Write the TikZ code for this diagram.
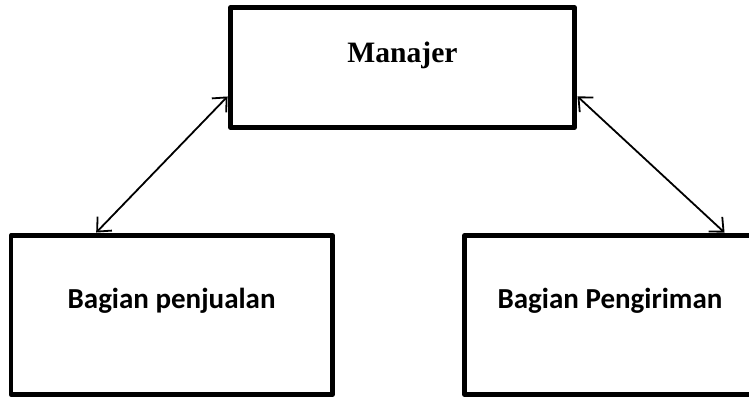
\documentclass[tikz,border=0pt]{standalone}
\usepackage{fontspec}
\setmainfont{Liberation Serif}
\newfontfamily\calib{Carlito}
\usetikzlibrary{arrows.meta}
\tikzset{
  boxnode/.style={draw=black, line width=4.5pt, line join=round, fill=white, inner sep=0pt},
  conn/.style={line width=1.8pt, {Straight Barb[length=11pt,width=20pt,line width=1.8pt]}-{Straight Barb[length=11pt,width=20pt,line width=1.8pt]}, shorten <=1pt, shorten >=1pt}
}
\begin{document}
\begin{tikzpicture}[x=1pt,y=-1pt]
\clip (0,0) rectangle (749,398);
\fill[white] (0,0) rectangle (749,398);
\node[boxnode, minimum width=344pt, minimum height=120pt, text height=20pt, text depth=29pt,
  font=\fontsize{29.6pt}{32pt}\selectfont\bfseries] (m) at (402.5,67.5) {Manajer};
\node[boxnode, minimum width=321.7pt, minimum height=159pt, text height=20pt, text depth=33pt,
  font=\calib\fontsize{29pt}{32pt}\selectfont\bfseries] (l) at (171.6,315) {Bagian penjualan};
\node[boxnode, minimum width=320pt, minimum height=159pt, text height=20pt, text depth=33pt,
  font=\calib\fontsize{29pt}{32pt}\selectfont\bfseries] (r) at (624.5,315) {\hspace*{-29pt}Bagian Pengiriman};
\draw[conn] ([yshift=34pt]m.south west) -- ([xshift=87pt]l.north west);
\draw[conn] ([yshift=34pt]m.south east) -- ([xshift=263pt]r.north west);
\end{tikzpicture}
\end{document}
